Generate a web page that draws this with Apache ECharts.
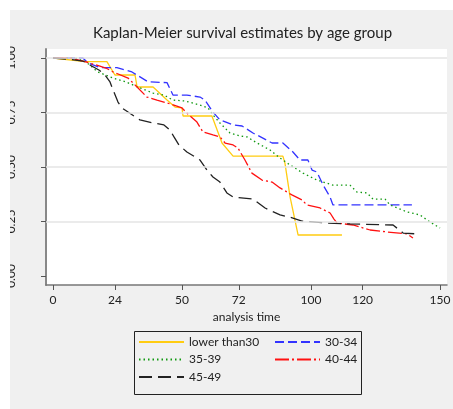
<!DOCTYPE html>
<html>
<head>
<meta charset="utf-8">
<script src="https://cdn.jsdelivr.net/npm/echarts@6/dist/echarts.min.js"></script>
<style>
  html, body { margin: 0; padding: 0; background: #ffffff; }
  #kmChart { position: absolute; left: 10px; top: 10px; width: 443px; height: 399px; }
</style>
</head>
<body>
<div id="kmChart"></div>
<script>
'use strict';

// data: [analysis time, survival]
var groupNames = ['lower than30', '30-34', '35-39', '40-44', '45-49'];
var xTickValues = [0, 24, 50, 72, 100, 120, 150];
var yTickValues = [0, 0.25, 0.5, 0.75, 1];
var gridValues = [0.25, 0.5, 0.75, 1];

var lowerThan30 = [
    [0, 1], [12.4, 0.983], [20.9, 0.983], [24, 0.922], [31.8, 0.922], [32.6, 0.867],
    [38.8, 0.867], [44.2, 0.807], [47.3, 0.775], [50, 0.771], [50.4, 0.734], [61.6, 0.734],
    [65.5, 0.61], [69.8, 0.55], [89.1, 0.55], [89.9, 0.518], [91.9, 0.362], [95, 0.188],
    [112, 0.188]
];
var age30to34 = [
    [0, 1], [11.6, 1], [13.6, 0.977], [18.2, 0.956], [24.8, 0.956], [30.6, 0.936],
    [36.8, 0.891], [44.2, 0.887], [46.5, 0.83], [51.9, 0.83], [57, 0.821], [58.9, 0.807],
    [62, 0.752], [64.7, 0.716], [69.8, 0.693], [73.3, 0.688], [77.5, 0.656], [79.1, 0.647],
    [84.9, 0.61], [89.1, 0.61], [93, 0.569], [95.7, 0.532], [98.8, 0.532], [100.4, 0.486],
    [102.3, 0.477], [104.7, 0.417], [107.4, 0.362], [108.5, 0.326], [139.1, 0.326]
];
var age35to39 = [
    [0, 1], [8.5, 1], [12.8, 0.982], [17.4, 0.936], [23.3, 0.908], [28.3, 0.89],
    [32.9, 0.867], [38.8, 0.839], [43, 0.83], [46.5, 0.807], [51.2, 0.803], [57, 0.784],
    [60.1, 0.771], [62, 0.739], [64.7, 0.702], [68.6, 0.656], [72.5, 0.642], [75.2, 0.638],
    [79.1, 0.61], [84.1, 0.578], [88, 0.541], [91.9, 0.509], [96.9, 0.472], [102.3, 0.44],
    [108.5, 0.417], [115.1, 0.417], [117.8, 0.385], [121.7, 0.381], [124, 0.353],
    [128.7, 0.353], [130.6, 0.326], [137.2, 0.294], [142.2, 0.28], [146.1, 0.248], [150, 0.22]
];
var age40to44 = [
    [0, 1], [6.6, 1], [12.8, 0.982], [16.7, 0.968], [20.5, 0.954], [23.3, 0.936],
    [29.1, 0.908], [32.6, 0.867], [36.4, 0.821], [40.3, 0.807], [44.2, 0.794], [50, 0.771],
    [52.3, 0.743], [55.8, 0.706], [58.1, 0.661], [62, 0.647], [64.7, 0.638], [66.7, 0.61],
    [69.8, 0.601], [71.7, 0.587], [74.4, 0.532], [77.1, 0.472], [81, 0.44], [84.9, 0.431],
    [88, 0.404], [92.6, 0.372], [96.5, 0.349], [98.4, 0.326], [103.5, 0.312], [107.4, 0.289],
    [108.9, 0.261], [110.1, 0.243], [116.3, 0.234], [122.9, 0.211], [129.5, 0.202],
    [137.2, 0.193], [139.5, 0.174]
];
var age45to49 = [
    [0, 1], [5.4, 0.995], [11.6, 0.986], [14.3, 0.968], [17.8, 0.945], [20.2, 0.922],
    [22.1, 0.89], [23.3, 0.853], [25.2, 0.798], [26.7, 0.771], [29.1, 0.752], [33.7, 0.716],
    [38.8, 0.702], [43, 0.693], [45.3, 0.67], [46.9, 0.638], [48.8, 0.601], [51.9, 0.569],
    [57, 0.532], [59.7, 0.486], [62, 0.454], [64.7, 0.431], [67.4, 0.381], [69.8, 0.362],
    [77.5, 0.353], [82.2, 0.312], [88, 0.28], [93, 0.266], [96.5, 0.252], [106.2, 0.243],
    [115.1, 0.239], [131.8, 0.234], [135.7, 0.197], [141.1, 0.193]
];

var fontName = 'Lato, "Open Sans", sans-serif';

function kmLine(name, data, color, dash) {
    return {
        name: name,
        type: 'line',
        data: data,
        symbol: 'none',
        showSymbol: false,
        z: 3,
        color: color,
        lineStyle: {
            color: color,
            width: 1.3,
            type: dash
        }
    };
}

// two vertical legends side by side, like the two columns in the box
function legendColumn(left, names) {
    return {
        orient: 'vertical',
        left: left,
        top: 321,
        itemWidth: 45,
        itemHeight: 14,
        itemGap: 5.5,
        data: names,
        itemStyle: { opacity: 0 },
        textStyle: { fontFamily: fontName, fontSize: 12, color: '#222' }
    };
}

var echartElemKm = document.getElementById('kmChart');
if (echartElemKm) {
    var echartKm = echarts.init(echartElemKm);
    echartKm.setOption({
        backgroundColor: '#f0f0f0',
        animation: false,
        title: {
            text: 'Kaplan-Meier survival estimates by age group',
            left: 83,
            top: 16,
            padding: 0,
            textStyle: {
                fontFamily: fontName,
                fontSize: 15,
                fontWeight: 'normal',
                color: '#222'
            }
        },
        legend: [
            legendColumn(123, [groupNames[0], groupNames[2], groupNames[4]]),
            legendColumn(259, [groupNames[1], groupNames[3]])
        ],
        graphic: [{
            type: 'rect',
            left: 122,
            top: 319,
            shape: { width: 227, height: 63 },
            style: { fill: 'none', stroke: '#222', lineWidth: 1 },
            silent: true
        }],
        grid: {
            left: 36,
            top: 39,
            right: 6,
            bottom: 124,
            containLabel: false,
            outerBoundsMode: 'none',
            show: true,
            backgroundColor: '#ffffff',
            borderWidth: 0
        },
        xAxis: {
            type: 'value',
            min: -2.7,
            max: 152.7,
            name: 'analysis time',
            nameLocation: 'middle',
            nameGap: 22,
            nameTextStyle: { fontFamily: fontName, fontSize: 12, color: '#222' },
            axisLine: { show: true, onZero: false, lineStyle: { color: '#777', width: 1.5 } },
            axisTick: { show: true, length: 5, customValues: xTickValues, lineStyle: { color: '#555' } },
            axisLabel: {
                customValues: xTickValues,
                margin: 9,
                fontFamily: fontName,
                fontSize: 12,
                color: '#222'
            },
            splitLine: { show: false }
        },
        yAxis: {
            type: 'value',
            min: -0.0413,
            max: 1.0413,
            axisLine: { show: true, onZero: false, lineStyle: { color: '#888', width: 2 } },
            axisTick: { show: true, length: 5, customValues: yTickValues, lineStyle: { color: '#555' } },
            axisLabel: {
                customValues: yTickValues,
                rotate: 90,
                margin: 29,
                fontFamily: fontName,
                fontSize: 12,
                color: '#222',
                formatter: function (v) { return v.toFixed(2); }
            },
            splitLine: { show: false }
        },
        series: [{
            name: 'grid',
            type: 'line',
            data: [],
            z: 1,
            markLine: {
                silent: true,
                symbol: 'none',
                label: { show: false },
                lineStyle: { color: '#e4e4e4', type: 'solid', width: 1.5 },
                data: gridValues.map(function (v) { return { yAxis: v }; })
            }
        },
            kmLine(groupNames[0], lowerThan30, '#ffcc11', 'solid'),
            kmLine(groupNames[1], age30to34, '#3333ff', [9, 4]),
            kmLine(groupNames[2], age35to39, '#119911', [1.5, 3]),
            kmLine(groupNames[3], age40to44, '#ff1111', [14, 3, 2, 3]),
            kmLine(groupNames[4], age45to49, '#222222', [13, 6])
        ]
    });
    window.addEventListener('resize', function () {
        setTimeout(function () {
            echartKm.resize();
        }, 500);
    });
}
</script>
</body>
</html>
